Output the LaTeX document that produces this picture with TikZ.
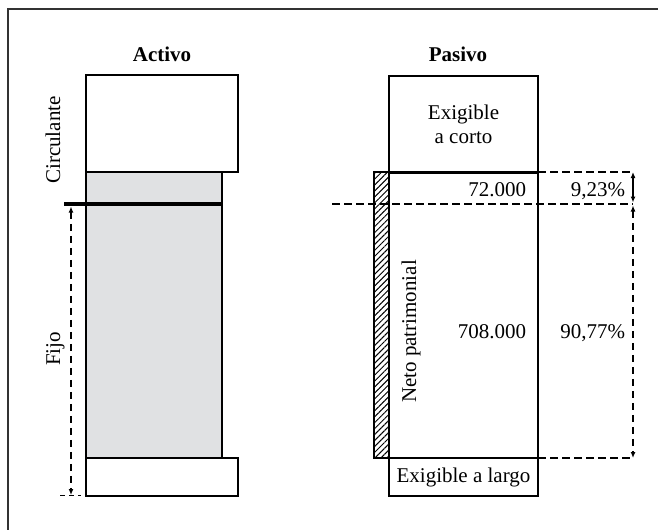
\documentclass[tikz,border=0pt]{standalone}
\usepackage{fontspec}
\setmainfont{Liberation Serif}
\usetikzlibrary{arrows.meta,patterns.meta}
\definecolor{fijogray}{RGB}{224,225,227}
\begin{document}
\begin{tikzpicture}[x=1pt,y=-1pt,
  every node/.style={font=\fontsize{21}{24}\selectfont, inner sep=0pt, outer sep=0pt},
  box/.style={draw, line width=2.4pt, rectangle},
  dimline/.style={line width=1.2pt, dash pattern=on 7.5pt off 4.5pt},
  tips/.style={{Latex[length=6pt,width=5pt]}-{Latex[length=6pt,width=5pt]}},
  title/.style={font=\fontsize{21}{24}\selectfont\bfseries, anchor=base}]
\useasboundingbox (0,0) rectangle (658,530);

% outer frame (top and left edges)
\draw[line width=2.4pt, black!80] (658,9) -- (8,9) -- (8,530);

% ---------- Activo ----------
\node[title] (activo) at (162,61) {Activo};
\node[box, fill=fijogray, minimum width=136pt, minimum height=286pt] (fijo) at (154,315) {};
\node[box, minimum width=152pt, minimum height=97pt] (circ) at (162,123.5) {};
\node[box, minimum width=152pt, minimum height=38pt] (abajo) at (162,477) {};
\coordinate (cutL) at (64,204);
\coordinate (cutR) at (222,204);
\draw[line width=3.6pt] (cutL) -- (cutR);

\node[rotate=90, anchor=base] (lcirc) at (60,140) {Circulante};
\node[rotate=90, anchor=base] (lfijo) at (60,349) {Fijo};

\coordinate (fA) at (71,206.5);
\coordinate (fB) at (71,495);
\draw[dimline, tips] (fA) -- (fB);
\coordinate (tL) at (60,495.5);
\coordinate (tR) at (81,495.5);
\draw[line width=1.2pt, dash pattern=on 5pt off 4pt] (tL) -- (tR);

% ---------- Pasivo ----------
\node[title] (pasivo) at (458,61) {Pasivo};
\node[box, pattern={Lines[angle=45,distance=4.2pt,line width=1pt]},
      minimum width=15pt, minimum height=286pt] (hatch) at (381.5,315) {};
\node[box, fill=white, minimum width=149pt, minimum height=97pt, align=center] (corto) at (463.5,124.5) {Exigible\\a corto};
\node[box, minimum width=149pt, minimum height=286pt] (neto) at (463.5,315) {};
\node[box, fill=white, minimum width=149pt, minimum height=38pt] (largo) at (463.5,477) {Exigible a largo};

\node[rotate=90, anchor=base] (lneto) at (416,331.5) {Neto patrimonial};
\node[anchor=base east] (v1) at (526,196) {72.000};
\node[anchor=base east] (v2) at (526,338) {708.000};
\node[anchor=base east] (p1) at (625,196) {9,23\%};
\node[anchor=base east] (p2) at (625,338) {90,77\%};

% dimension lines on the right
\coordinate (dL) at (332,204);
\coordinate (dR) at (633,204);
\coordinate (tA) at (538,172);
\coordinate (tB) at (633,172);
\coordinate (bA) at (538,458);
\coordinate (bB) at (633,458);
\draw[dimline] (dL) -- (dR);
\draw[dimline] (tA) -- (tB);
\draw[dimline] (bA) -- (bB);
\coordinate (r1) at (633,172);
\coordinate (r2) at (633,202.5);
\coordinate (r3) at (633,205.5);
\coordinate (r4) at (633,458);
\draw[line width=1.2pt, tips] (r1) -- (r2);
\draw[dimline, tips] (r3) -- (r4);
\end{tikzpicture}
\end{document}
